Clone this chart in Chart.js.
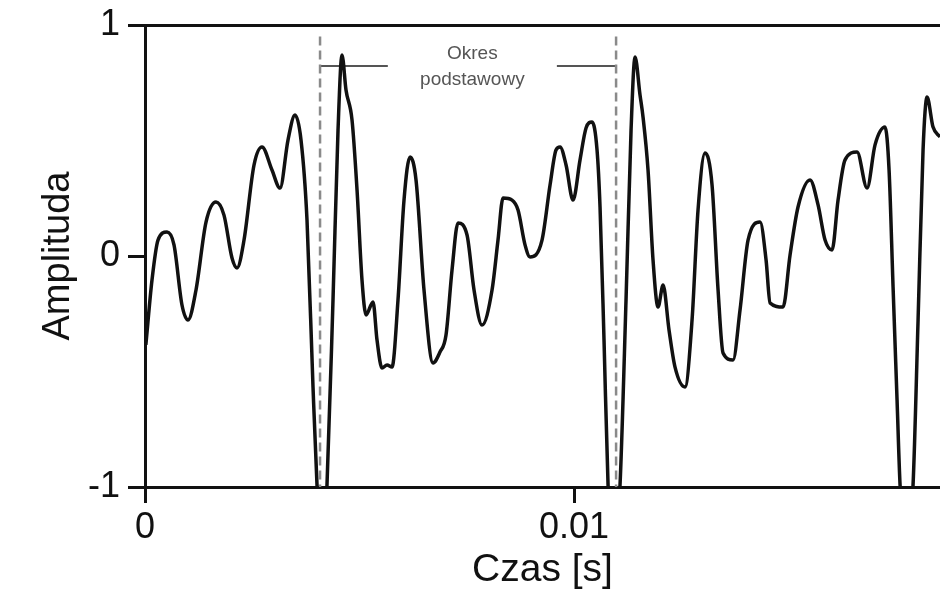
<!DOCTYPE html>
<html>
<head>
<meta charset="utf-8">
<script src="https://cdn.jsdelivr.net/npm/chart.js@4/dist/chart.umd.min.js"></script>
<style>
  html, body { margin: 0; padding: 0; background: #fff; }
  #wrap { width: 940px; height: 589px; }
</style>
</head>
<body>
<div id="wrap"><canvas id="myChart" width="940" height="589"></canvas></div>
<script>
// time in ms, amplitude
const timeMs = [0.02, 0.163, 0.303, 0.513, 0.676, 0.862, 1.002, 1.189, 1.422, 1.655,
  1.841, 2.028, 2.145, 2.308, 2.541, 2.727, 2.960, 3.147, 3.333, 3.497,
  3.636, 3.776, 3.916, 4.009, 4.126, 4.242, 4.382, 4.499, 4.592, 4.685,
  4.825, 4.942, 5.058, 5.152, 5.315, 5.408, 5.524, 5.641, 5.758, 5.897,
  6.037, 6.177, 6.317, 6.503, 6.713, 6.876, 7.016, 7.156, 7.296, 7.506,
  7.669, 7.855, 8.089, 8.228, 8.345, 8.555, 8.695, 8.858, 8.974, 9.254,
  9.441, 9.580, 9.674, 9.814, 9.977, 10.140, 10.280, 10.420, 10.536, 10.606,
  10.699, 10.793, 10.932, 11.072, 11.212, 11.329, 11.422, 11.538, 11.608, 11.725,
  11.841, 11.958, 12.075, 12.214, 12.354, 12.587, 12.751, 12.890, 13.054, 13.217,
  13.357, 13.473, 13.706, 13.869, 14.056, 14.336, 14.476, 14.569, 14.872, 15.035,
  15.221, 15.501, 15.688, 15.851, 16.014, 16.154, 16.317, 16.597, 16.830, 17.016,
  17.249, 17.343, 17.436, 17.529, 17.599, 17.739, 17.902, 18.019, 18.135, 18.228,
  18.368, 18.531];
const amplitude = [-0.385, -0.104, 0.069, 0.104, 0.048, -0.212, -0.277, -0.147, 0.147, 0.234,
  0.177, -0.009, -0.052, 0.069, 0.394, 0.472, 0.372, 0.294, 0.502, 0.610,
  0.502, 0.156, -0.567, -0.991, -1.316, -0.991, -0.190, 0.545, 0.870, 0.719,
  0.589, 0.286, -0.104, -0.255, -0.199, -0.364, -0.485, -0.472, -0.481, -0.190,
  0.242, 0.429, 0.329, -0.147, -0.463, -0.416, -0.342, -0.061, 0.143, 0.091,
  -0.147, -0.299, -0.147, 0.069, 0.251, 0.242, 0.199, 0.048, -0.004, 0.069,
  0.307, 0.459, 0.472, 0.394, 0.242, 0.416, 0.554, 0.580, 0.459, 0.212,
  -0.364, -0.991, -1.316, -0.991, -0.190, 0.545, 0.861, 0.697, 0.602, 0.372,
  -0.017, -0.221, -0.126, -0.320, -0.481, -0.567, -0.277, 0.199, 0.446, 0.307,
  -0.147, -0.420, -0.450, -0.234, 0.069, 0.147, -0.017, -0.203, -0.221, 0.004,
  0.212, 0.329, 0.221, 0.069, 0.026, 0.242, 0.416, 0.450, 0.294, 0.481,
  0.558, 0.372, -0.134, -0.623, -0.991, -1.316, -0.991, -0.277, 0.459, 0.688,
  0.558, 0.515];

const xTickValues = [0, 10];
const xTickLabels = ['0', '0.01'];
const yTickValues = [-1, 0, 1];
const yTickLabels = ['-1', '0', '1'];

// fundamental period markers
const periodStart = [4.08, 10.98];
const markerTop = 0.95;
const bracketLevel = 0.823;
const bracketLeft = [4.08, 5.66];
const bracketRight = [9.60, 10.98];
const periodLabel = ['Okres', 'podstawowy'];

const FONT = "'Liberation Sans', Arial, Helvetica, sans-serif";

const wave = timeMs.map((t, i) => ({ x: t, y: amplitude[i] }));
const markers = [
  { x: periodStart[0], y: markerTop }, { x: periodStart[0], y: -1 }, { x: null, y: null },
  { x: periodStart[1], y: markerTop }, { x: periodStart[1], y: -1 }
];
const bracket = [
  { x: bracketLeft[0], y: bracketLevel }, { x: bracketLeft[1], y: bracketLevel }, { x: null, y: null },
  { x: bracketRight[0], y: bracketLevel }, { x: bracketRight[1], y: bracketLevel }
];

const labelPlugin = {
  id: 'periodLabel',
  afterDatasetsDraw(chart) {
    const { ctx, scales } = chart;
    const cx = scales.x.getPixelForValue((bracketLeft[1] + bracketRight[0]) / 2);
    ctx.save();
    ctx.fillStyle = '#555';
    ctx.font = '19px ' + FONT;
    ctx.textAlign = 'center';
    ctx.textBaseline = 'middle';
    ctx.fillText(periodLabel[0], cx, scales.y.getPixelForValue(0.875));
    ctx.fillText(periodLabel[1], cx, scales.y.getPixelForValue(0.765));
    ctx.restore();
  }
};

window.onload = function() {
  const ctx = document.getElementById('myChart').getContext('2d');
  new Chart(ctx, {
    type: 'line',
    data: {
      datasets: [{
        data: wave,
        borderColor: '#111',
        borderWidth: 3.5,
        pointRadius: 0,
        cubicInterpolationMode: 'monotone',
        fill: false
      }, {
        data: markers,
        borderColor: '#8a8a8a',
        borderWidth: 2.5,
        borderDash: [9, 5],
        pointRadius: 0,
        spanGaps: false,
        fill: false
      }, {
        data: bracket,
        borderColor: '#555',
        borderWidth: 2,
        pointRadius: 0,
        spanGaps: false,
        fill: false
      }]
    },
    options: {
      responsive: false,
      animation: false,
      events: [],
      parsing: false,
      layout: { padding: 0 },
      plugins: { legend: { display: false }, tooltip: { enabled: false } },
      scales: {
        x: {
          type: 'linear',
          position: 'bottom',
          min: 0,
          max: 18.53,
          afterBuildTicks: s => { s.ticks = xTickValues.map(v => ({ value: v })); },
          afterFit: s => { s.height = 102; },
          ticks: {
            callback: v => xTickLabels[xTickValues.indexOf(v)],
            font: { family: FONT, size: 36 },
            color: '#111',
            padding: 3,
            maxRotation: 0
          },
          grid: { drawOnChartArea: false, drawTicks: true, tickLength: 16, color: '#111', lineWidth: 3 },
          border: { display: true, color: '#111', width: 3 },
          title: {
            display: true,
            text: 'Czas [s]',
            font: { family: FONT, size: 39 },
            color: '#111',
            padding: { top: 0, bottom: -5 }
          }
        },
        xTop: {
          type: 'linear',
          position: 'top',
          min: 0,
          max: 18.53,
          afterFit: s => { s.height = 25; },
          ticks: { display: false },
          grid: { display: false },
          border: { display: true, color: '#111', width: 3 }
        },
        y: {
          min: -1,
          max: 1,
          afterBuildTicks: s => { s.ticks = yTickValues.map(v => ({ value: v })); },
          afterFit: s => { s.width = 145; },
          ticks: {
            callback: v => yTickLabels[yTickValues.indexOf(v)],
            font: { family: FONT, size: 36, lineHeight: 0.9 },
            color: '#111',
            padding: 8
          },
          grid: { drawOnChartArea: false, drawTicks: true, tickLength: 17, color: '#111', lineWidth: 3 },
          border: { display: true, color: '#111', width: 3 },
          title: {
            display: true,
            text: 'Amplituda',
            font: { family: FONT, size: 38 },
            color: '#111',
            padding: { top: 36, bottom: 0 }
          }
        }
      }
    },
    plugins: [labelPlugin]
  });
};
</script>
</body>
</html>
